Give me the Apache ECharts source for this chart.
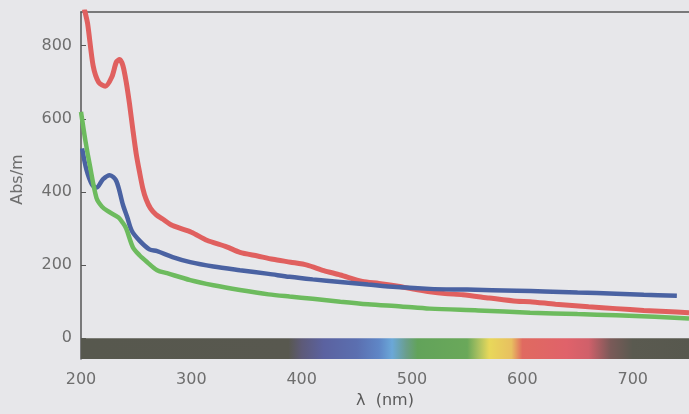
<!DOCTYPE html>
<html>
<head>
<meta charset="utf-8">
<script src="https://cdn.jsdelivr.net/npm/echarts@6/dist/echarts.min.js"></script>
<style>html,body{margin:0;padding:0;background:#e7e7ea;}#c{width:689px;height:414px;}</style>
</head>
<body>
<div id="c"></div>
<script>
// Wavelength (nm) / absorbance (Abs/m) pairs
var redWl  = [203,206,211,216,222,228,232,235,238,241,244,247,250,253,256,259,263,268,274,283,300,314,332,344,360,374,390,405,420,435,455,470,486,500,516,530,546,570,595,607,630,660,685,710,730,751];
var redAbs = [900,860,745,700,689,715,755,762,745,700,640,570,505,455,410,380,355,338,326,308,290,268,250,235,225,216,208,200,185,173,155,150,143,135,127,122,119,110,101,100,93,86,81,76,73,70];
var blueWl  = [201,205,210,214,220,226,232,238,242,246,253,262,269,283,299,320,344,370,389,410,435,460,486,516,550,595,620,650,685,710,740];
var blueAbs = [519,460,420,412,435,446,430,365,330,294,267,243,238,222,208,196,186,176,168,161,154,147,140,135,133,130,128,125,122,119,116];
var greenWl  = [200,204,208,214,219,224,234,238,241,247,253,260,269,278,299,320,344,370,389,410,435,460,490,516,560,607,650,685,720,751];
var greenAbs = [619,540,473,384,360,348,330,315,300,249,227,208,186,178,159,145,132,120,114,108,100,93,87,81,76,70,66,63,59,54];
var xTicks = [200,300,400,500,600,700];
var yTicks = [0,200,400,600,800];
// visible spectrum strip: wavelength stops and colours
var specWl  = [200,388,400,420,450,470,482,495,505,550,560,570,590,600,640,660,680,700,751];
var specCol = ['#57584e','#58584f','#5d5a78','#5b62a0','#5b6fb0','#5f86c6','#6ba8d8','#6a9e8a','#62a35a','#6aa85a','#a8c060','#e8d85a','#e8c060','#e06a60','#e0626a','#d0606a','#7a5a58','#5a5a50','#57584e'];

function pairs(xs, ys){ return xs.map(function(x,i){ return [x, ys[i]]; }); }
var X0 = 200, X1 = 751, YMIN = -57, YMAX = 892;
var stops = specWl.map(function(w,i){ return {offset:(w-X0)/(X1-X0), color:specCol[i]}; });

var chart = echarts.init(document.getElementById('c'));
var font = 'DejaVu Sans';
chart.setOption({
  backgroundColor: '#e7e7ea',
  animation: false,
  grid: {left: 81, right: 0, top: 12, bottom: 51},
  xAxis: [{
    type: 'value', min: X0, max: X1, position: 'bottom',
    axisLine: {show: false}, axisTick: {show: false}, splitLine: {show: false},
    axisLabel: {customValues: xTicks, color: '#6e6e6e', fontSize: 16, fontFamily: font, margin: 13},
    name: 'λ  (nm)', nameLocation: 'middle', nameGap: 33,
    nameTextStyle: {color: '#5a5a5a', fontSize: 16, fontFamily: font}
  }, {
    type: 'value', min: X0, max: X1, position: 'top',
    axisLine: {show: true, lineStyle: {color: '#555', width: 1.5}},
    axisTick: {show: false}, axisLabel: {show: false}, splitLine: {show: false}
  }],
  yAxis: {
    type: 'value', min: YMIN, max: YMAX,
    axisLine: {show: true, lineStyle: {color: '#555', width: 1.5}},
    axisTick: {show: true, inside: true, length: 5, customValues: yTicks, lineStyle: {color: '#555'}},
    axisLabel: {customValues: yTicks, color: '#6e6e6e', fontSize: 16, fontFamily: font, margin: 9},
    splitLine: {show: false},
    name: 'Abs/m', nameLocation: 'middle', nameRotate: 90, nameGap: 55,
    nameTextStyle: {color: '#6e6e6e', fontSize: 16, fontFamily: font, padding: [0, 0, 0, 12]}
  },
  series: [{
    type: 'line', data: [], silent: true,
    markArea: {
      silent: true,
      itemStyle: {color: {type: 'linear', x: 0, y: 0, x2: 1, y2: 0, colorStops: stops}},
      data: [[{xAxis: X0, yAxis: 0}, {xAxis: X1, yAxis: YMIN}]]
    }
  }, {
    name: 'red', type: 'line', data: pairs(redWl, redAbs), showSymbol: false, smooth: 0.25,
    lineStyle: {color: '#e0605f', width: 5}, clip: true
  }, {
    name: 'blue', type: 'line', data: pairs(blueWl, blueAbs), showSymbol: false, smooth: 0.3,
    lineStyle: {color: '#4a62a2', width: 4.5}, clip: true
  }, {
    name: 'green', type: 'line', data: pairs(greenWl, greenAbs), showSymbol: false, smooth: 0.3,
    lineStyle: {color: '#6dbb5e', width: 4.5}, clip: true
  }]
});
</script>
</body>
</html>
